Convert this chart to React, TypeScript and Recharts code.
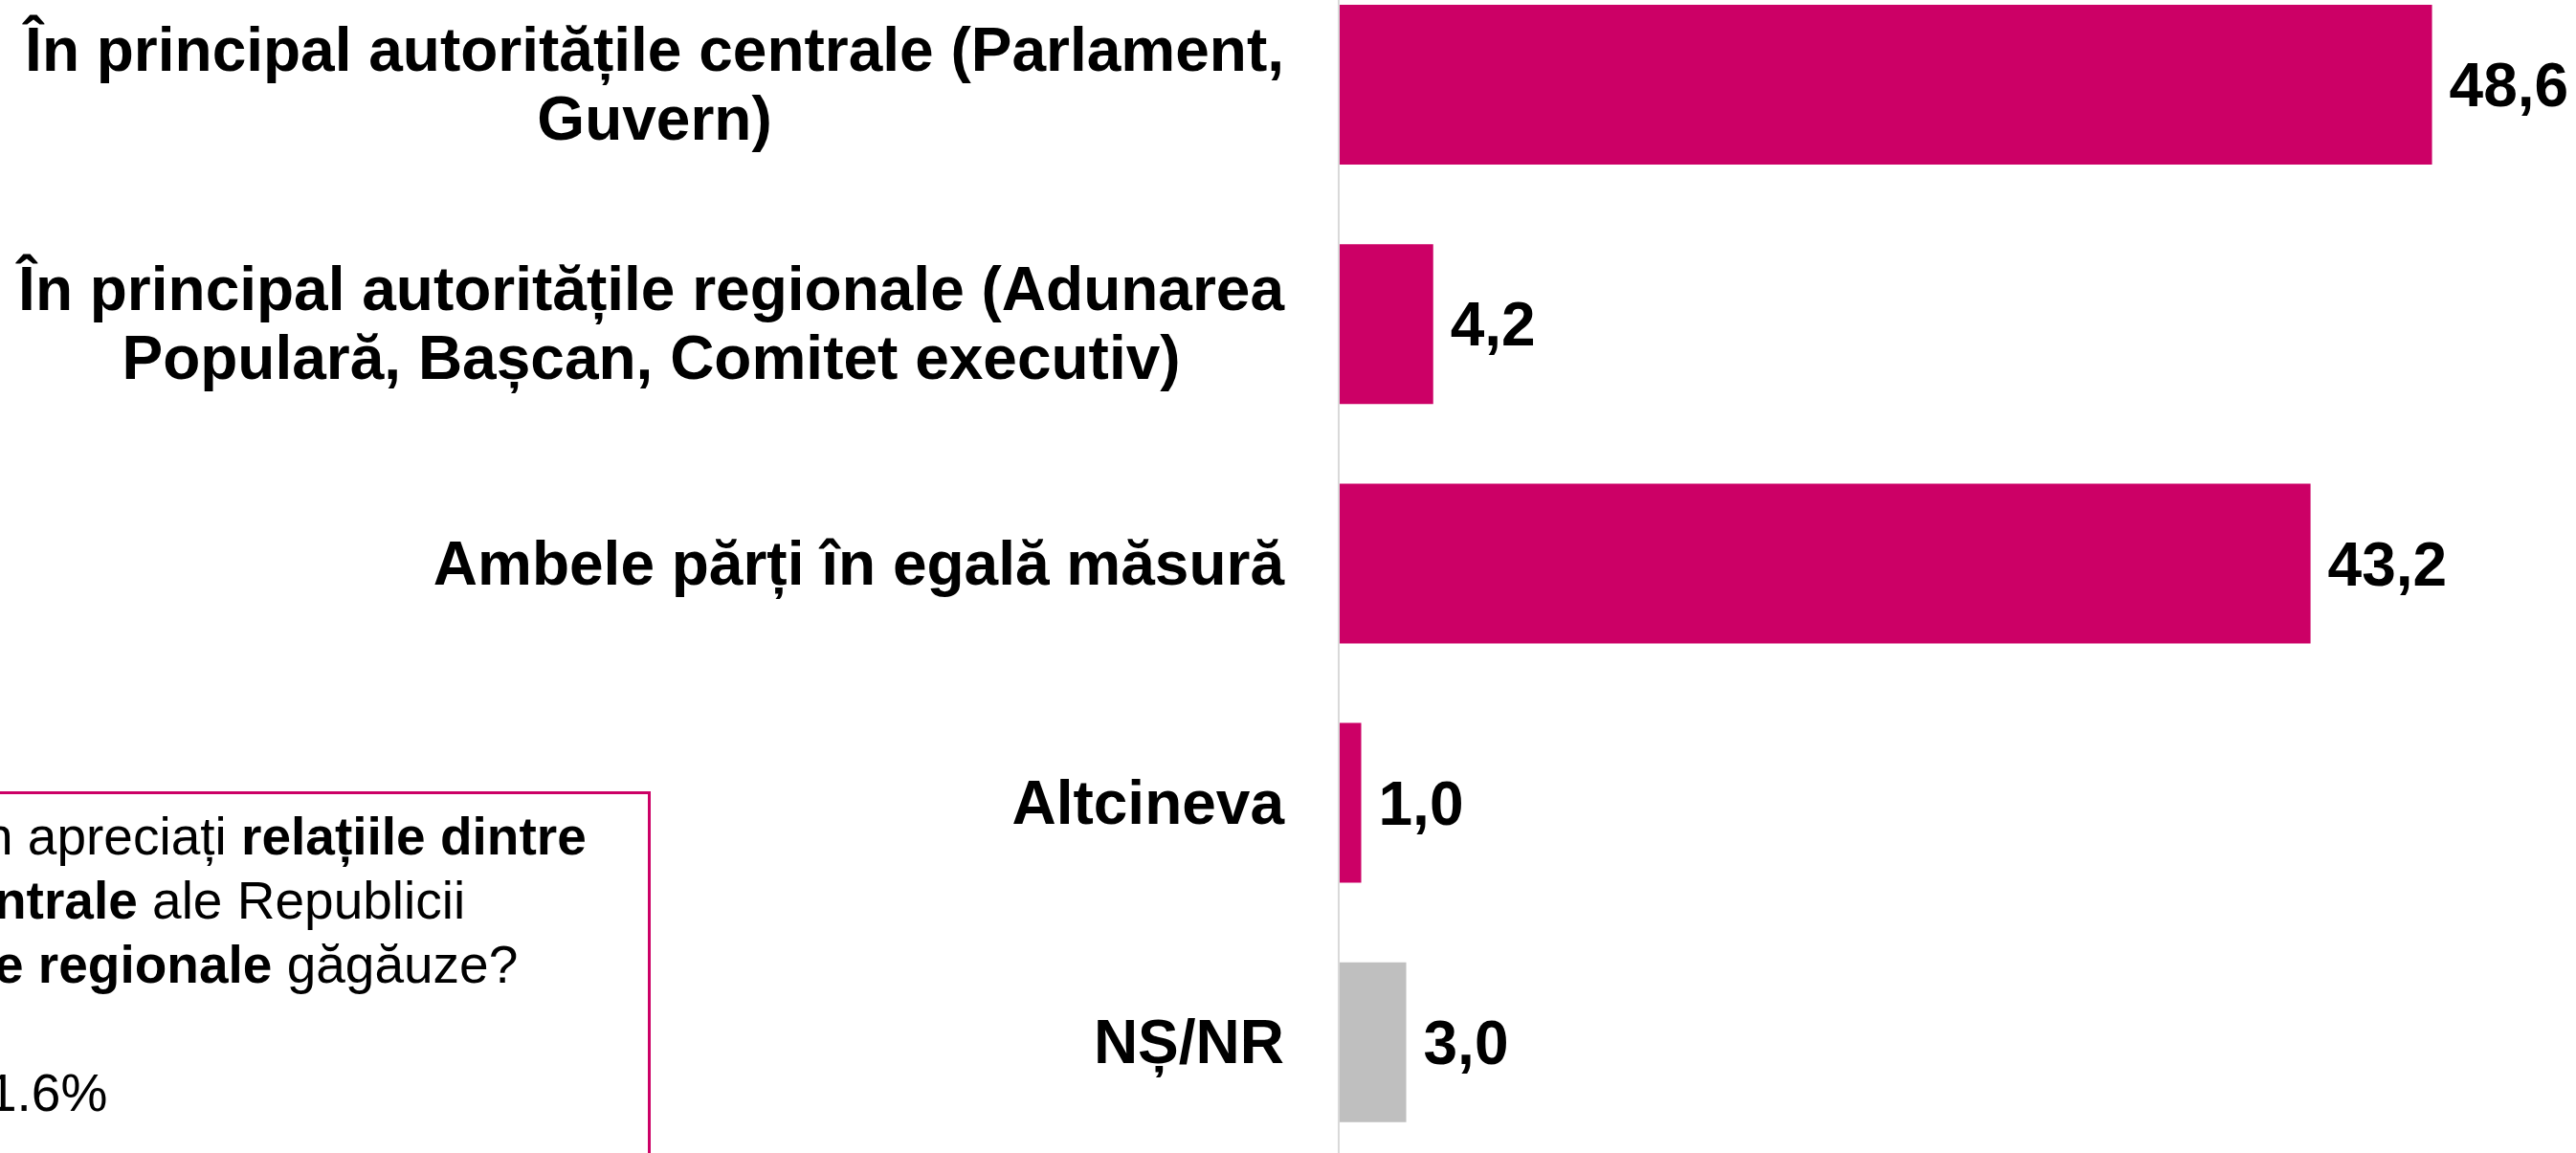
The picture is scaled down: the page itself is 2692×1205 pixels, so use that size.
import React from "react";
import { BarChart, Bar, XAxis, YAxis, Cell, LabelList } from "recharts";

const categories = [
  "În principal autoritățile centrale (Parlament, Guvern)",
  "În principal autoritățile regionale (Adunarea Populară, Bașcan, Comitet executiv)",
  "Ambele părți în egală măsură",
  "Altcineva",
  "NȘ/NR",
];
const values = [48.6, 4.2, 43.2, 1.0, 3.0];
const xDomain = [0, 55];

const data = categories.map((name, i) => ({ name, value: values[i] }));

const FONT = "'Liberation Sans', Arial, Helvetica, sans-serif";
const MAGENTA = "#CC0066";
const GRAY = "#BFBFBF";

let ctx: CanvasRenderingContext2D | null = null;
const measure = (s: string) => {
  if (!ctx) ctx = document.createElement("canvas").getContext("2d");
  if (!ctx) return s.length * 35;
  ctx.font = `bold 64px ${FONT}`;
  return ctx.measureText(s).width;
};

const wrap = (text: string, maxW: number) => {
  const words = text.split(" ");
  const lines: string[] = [];
  let cur = "";
  for (const w of words) {
    const t = cur ? cur + " " + w : w;
    if (cur && measure(t) > maxW) {
      lines.push(cur);
      cur = w;
    } else cur = t;
  }
  if (cur) lines.push(cur);
  return lines;
};

const CategoryTick = (props: any) => {
  const { x, y, payload } = props;
  const lines = wrap(payload.value, 1340);
  const blockW = Math.max(...lines.map(measure));
  const cx = x - blockW / 2;
  return (
    <text
      textAnchor="middle"
      fontFamily={FONT}
      fontSize={64}
      fontWeight="bold"
      fill="#000"
    >
      {lines.map((l, i) => (
        <tspan key={i} x={cx} y={y + (i - (lines.length - 1) / 2) * 72 + 22}>
          {l}
        </tspan>
      ))}
    </text>
  );
};

const App = () => {
  return (
    <div
      style={{
        position: "absolute",
        left: 0,
        top: 0,
        width: 2692,
        height: 1205,
        overflow: "hidden",
        background: "#fff",
      }}
    >
      <div style={{ position: "absolute", left: 0, top: -37 }}>
        <BarChart
          width={2692}
          height={1251}
          data={data}
          layout="vertical"
          barSize={167}
          margin={{ top: 0, right: 0, bottom: 0, left: 0 }}
        >
          <XAxis type="number" domain={xDomain} hide />
          <YAxis
            type="category"
            dataKey="name"
            width={1399}
            interval={0}
            axisLine={{ stroke: "#D9D9D9", strokeWidth: 2 }}
            tickLine={false}
            tickSize={0}
            tickMargin={57}
            tick={<CategoryTick />}
          />
          <Bar dataKey="value" isAnimationActive={false}>
            {data.map((d, i) => (
              <Cell key={i} fill={d.name === "NȘ/NR" ? GRAY : MAGENTA} />
            ))}
            <LabelList
              dataKey="value"
              position="right"
              offset={18}
              formatter={(v: any) => Number(v).toFixed(1).replace(".", ",")}
              fontFamily={FONT}
              fontSize={64}
              fontWeight="bold"
              fill="#000"
            />
          </Bar>
        </BarChart>
      </div>
      <svg
        width={2692}
        height={1205}
        style={{ position: "absolute", left: 0, top: 0, pointerEvents: "none" }}
      >
        <rect
          x={-10}
          y={828.5}
          width={688.5}
          height={500}
          fill="none"
          stroke={MAGENTA}
          strokeWidth={3}
        />
        <g fontFamily={FONT} fontSize={55} fill="#000">
          <text x={-17} y={893}>
            {"n apreciați "}
            <tspan fontWeight="bold">relațiile dintre</tspan>
          </text>
          <text x={-6} y={960}>
            <tspan fontWeight="bold">ntrale</tspan>
            {" ale Republicii"}
          </text>
          <text x={-6} y={1027}>
            <tspan fontWeight="bold">e regionale</tspan>
            {" găgăuze?"}
          </text>
          <text x={-13} y={1161}>
            1.6%
          </text>
        </g>
      </svg>
    </div>
  );
};

export default App;
